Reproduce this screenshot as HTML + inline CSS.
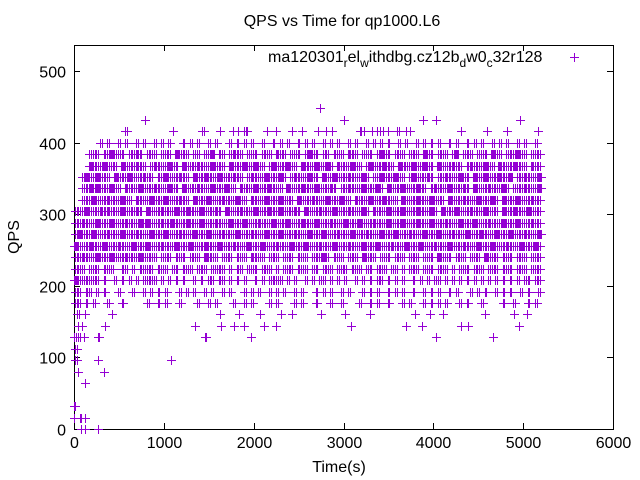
<!DOCTYPE html>
<html><head><meta charset="utf-8"><style>
html,body{margin:0;padding:0;background:#fff}
svg{display:block;font-family:"Liberation Sans",sans-serif}
</style></head><body>
<svg id="chart" width="640" height="480" xmlns="http://www.w3.org/2000/svg">
<rect width="640" height="480" fill="#fff"/>
<text x="342" y="26" text-anchor="middle" font-size="16">QPS vs Time for qp1000.L6</text>
<text x="339" y="472" text-anchor="middle" font-size="16">Time(s)</text>
<text transform="translate(19,237) rotate(-90)" text-anchor="middle" font-size="16">QPS</text>
<g id="axes"></g>
<g id="points"></g>
<g>
<text x="268" y="62" font-size="16">ma120301<tspan font-size="12" dy="5">r</tspan><tspan dy="-5">el</tspan><tspan font-size="12" dy="5">w</tspan><tspan dy="-5">ithdbg.cz12b</tspan><tspan font-size="12" dy="5">d</tspan><tspan dy="-5">w0</tspan><tspan font-size="12" dy="5">c</tspan><tspan dy="-5">32r128</tspan></text>
<path d="M570 57.5h9M574.5 53v9" stroke="#9400d3" stroke-width="1"/>
</g>
</svg>
<script>
const xTicks=[0,1000,2000,3000,4000,5000,6000];
const yTicks=[0,100,200,300,400,500];
const qpsStep=16;
const binSeconds=40;
const pointsPerUnit=2;
// dense rows: level index k (QPS = 16*k), occupancy per 40s bin (digit = relative point count)
const denseLevels=[25,24,23,22,21,20,19,18,17,16,15,14,13,12,11];
const denseBins=[
"0000000101001010010100101010001010100101000101010100100101010010101001010100101001010101001010010101010010100101010010101001010010",
"0000111011211101121011101110211101101120110121101110111021101110121101101110211011101211011101110211011101201110111021101112110111",
"0000211121110211121101211121102111211121110211121121101211121102111211210211121101211121102111211211021112110121112110211121110211",
"0012112111021112111211011211121102112111211121101211121112101211121102112111211121011211121101211121011211121102112111211201121112",
"0011212111211021112111211121102111211121112110211121112111021112111211121011211121112102111211121101211121112102111211121011121112",
"0011121112111211021112111211121102111211121112110211121112111021112111211121102111211121110211121112111021112111211121021112111211",
"1112111212111211121021112111211211121112102111211121112112111210211121112111211121021112111211121112102111211121112111021121112111",
"1121112111211121112121112112111211121112111211121112111211121112111211121112111211121112111211121112111211121112111211121112111211",
"1211121112111211121112111211121112111211121112111211121112111211121112111211121112111211121112111211121112111211121112111211121112",
"2111211121112111211121112111211121112111211121112111211121112111211121112111211121112111211121112111211121112111211121112111211121",
"1121112111211121112111101110111011102111011101110211101110111011101112101110111021110111011101110111021110111011102111011101110111",
"1110111011100110101111011101101110111011110101101110111010111011101101110111011101101110110101110111011101011101110111011101110111",
"2111111010010101010111101010101001010110110101010010101111010100101011010101001010101101010100101010110101010101010101010101011011",
"1101101010001000100101010100010101001010010100010101001010100101000101010010100010101001010100100101010010100010101001010100101001",
"1101010001000100000010010100010000100101000010010100001010000101000100010010000100101001000101000101010100010100010000010010001010"
];
// sparse rows: level index + times (s)
const sparseLevels=[28,27,26,10,9,8,7,6,5,4,2,1,0];
const sparseTimes=[
[2740],
[790,3005,3880,4030,4960],
[570,590,1100,1425,1450,1620,1765,1830,1890,1920,1930,2145,2250,2430,2540,2720,2810,2870,3180,3200,3230,3320,3370,3410,3440,3490,3590,3620,3700,3740,4310,4600,4820,5170],
[30,60,120,420,1630,1840,2070,2300,2430,2750,3020,3300,3800,3960,4110,4580,4900,5040],
[40,90,350,1350,1640,1780,1890,2120,2250,3080,3700,3870,4310,4390,4950],
[0,20,40,70,110,270,280,1460,1470,1970,4030,4660],
[10,30],
[10,30,270,1080],
[45,335],
[125],
[0,10],
[0,70,80,125],
[75,125,270]
];
const X0=74,X1=613,Y0=429,Y1=45,xMax=6000,yMax=536.3;
const xs=t=>X0+(t/xMax)*(X1-X0);
const ys=v=>Y0-(v/yMax)*(Y0-Y1);
const NS="http://www.w3.org/2000/svg";
const axes=document.getElementById('axes');
const pts=document.getElementById('points');
function mk(tag,attrs,parent){const e=document.createElementNS(NS,tag);for(const k in attrs)e.setAttribute(k,attrs[k]);parent.appendChild(e);return e;}
const frame=mk('rect',{x:X0+0.5,y:Y1+0.5,width:X1-X0,height:Y0-Y1,fill:'none',stroke:'#000','stroke-width':1},axes);


xTicks.forEach(t=>{
  const x=Math.round(xs(t))+0.5;
  const tk=mk('path',{d:`M${x} ${Y0}v-6M${x} ${Y1}v6`,stroke:'#000'},axes);
  
  
  const lb=mk('text',{x:x,y:Y0+19,'text-anchor':'middle','font-size':16},axes);
  lb.textContent=t;
  
  
});
yTicks.forEach(v=>{
  const y=Math.round(ys(v))+0.5;
  const tk=mk('path',{d:`M${X0} ${y}h6M${X1} ${y}h-6`,stroke:'#000'},axes);
  
  
  const lb=mk('text',{x:X0-8,y:y+6,'text-anchor':'end','font-size':16},axes);
  lb.textContent=v;
  
  
});
let d='';
function plus(t,v){const x=Math.round(xs(t))+0.5,y=Math.round(ys(v))+0.5;d+=`M${x-4.5} ${y}h9M${x} ${y-4.5}v9`;}
denseLevels.forEach((k,r)=>{
  const s=denseBins[r];
  for(let i=0;i<s.length;i++){
    const n=(+s[i])*pointsPerUnit;
    for(let j=0;j<n;j++) plus(i*binSeconds+(j+0.5)*binSeconds/n,k*qpsStep);
  }
});
sparseLevels.forEach((k,r)=>{sparseTimes[r].forEach(t=>plus(t,k*qpsStep));});
const p=mk('path',{d:d,stroke:'#9400d3','stroke-width':1,fill:'none','shape-rendering':'crispEdges'},pts);


</script>
</body></html>
